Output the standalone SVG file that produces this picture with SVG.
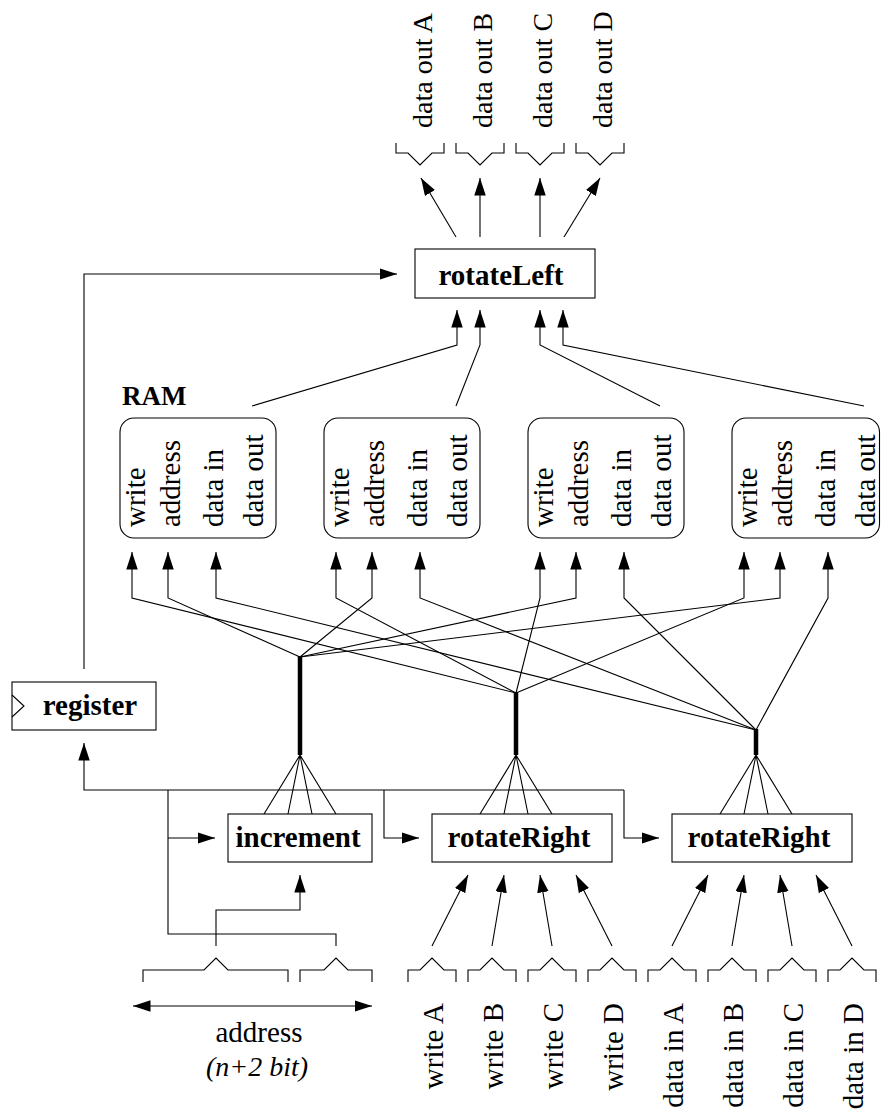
<svg xmlns="http://www.w3.org/2000/svg" width="881" height="1117" viewBox="0 0 881 1117">
<style>
.ln{fill:none;stroke:#000;stroke-width:1.1}
.bus{fill:none;stroke:#000;stroke-width:4.5}
.box{fill:#fff;stroke:#000;stroke-width:1.1}
.b{font-family:"Liberation Serif","Times New Roman",serif;font-weight:bold;font-size:29px;fill:#000}
.t{font-family:"Liberation Serif","Times New Roman",serif;font-size:29px;fill:#000}
.o{font-size:28px}
.i{font-family:"Liberation Serif","Times New Roman",serif;font-style:italic;font-size:28px;fill:#000}
</style>
<defs>
<marker id="ah" markerUnits="userSpaceOnUse" markerWidth="19" markerHeight="12" refX="17.5" refY="5.75" orient="auto-start-reverse">
<path d="M0,0 L17.5,5.75 L0,11.5 z" fill="#000"/>
</marker>
</defs>

<!-- output ports -->
<g id="dataOutA"><path class="ln" d="M396,143 V153 H408 L420,165 L432,153 H444 V143"/><text class="t o" transform="translate(432,128) rotate(-90)">data out A</text></g>
<g id="dataOutB"><path class="ln" d="M456,143 V153 H468 L480,165 L492,153 H504 V143"/><text class="t o" transform="translate(492,128) rotate(-90)">data out B</text></g>
<g id="dataOutC"><path class="ln" d="M516,143 V153 H528 L540,165 L552,153 H564 V143"/><text class="t o" transform="translate(552,128) rotate(-90)">data out C</text></g>
<g id="dataOutD"><path class="ln" d="M576,143 V153 H588 L600,165 L612,153 H624 V143"/><text class="t o" transform="translate(612,128) rotate(-90)">data out D</text></g>

<!-- rotateLeft -->
<g id="rotateLeft"><rect class="box" x="415" y="249" width="180" height="49"/><text class="b" x="501" y="285" text-anchor="middle">rotateLeft</text></g>

<!-- RAMs -->
<g id="ramLabel"><text class="b" x="122" y="405" style="font-size:27px">RAM</text></g>
<g id="ram1"><rect class="box" x="120" y="418" width="156" height="120" rx="14"/>
<text class="t" transform="translate(145,527) rotate(-90)">write</text>
<text class="t" transform="translate(180,527) rotate(-90)">address</text>
<text class="t" transform="translate(223,527) rotate(-90)">data in</text>
<text class="t" transform="translate(263,527) rotate(-90)">data out</text></g>
<g id="ram2"><rect class="box" x="324" y="418" width="156" height="120" rx="14"/>
<text class="t" transform="translate(349,527) rotate(-90)">write</text>
<text class="t" transform="translate(384,527) rotate(-90)">address</text>
<text class="t" transform="translate(427,527) rotate(-90)">data in</text>
<text class="t" transform="translate(467,527) rotate(-90)">data out</text></g>
<g id="ram3"><rect class="box" x="528" y="418" width="156" height="120" rx="14"/>
<text class="t" transform="translate(553,527) rotate(-90)">write</text>
<text class="t" transform="translate(588,527) rotate(-90)">address</text>
<text class="t" transform="translate(631,527) rotate(-90)">data in</text>
<text class="t" transform="translate(671,527) rotate(-90)">data out</text></g>
<g id="ram4"><rect class="box" x="732" y="418" width="147.5" height="120" rx="14"/>
<text class="t" transform="translate(757,527) rotate(-90)">write</text>
<text class="t" transform="translate(792,527) rotate(-90)">address</text>
<text class="t" transform="translate(835,527) rotate(-90)">data in</text>
<text class="t" transform="translate(875,527) rotate(-90)">data out</text></g>

<!-- register -->
<g id="register"><rect class="box" x="12" y="682" width="144" height="48"/><path class="ln" d="M12,695 L24,706 L12,717"/><text class="b" x="90" y="715" text-anchor="middle">register</text></g>

<!-- function boxes -->
<g id="increment"><rect class="box" x="228" y="814" width="144" height="48"/><text class="b" x="298" y="847" text-anchor="middle">increment</text></g>
<g id="rotateRight1"><rect class="box" x="432" y="814" width="180" height="48"/><text class="b" x="519" y="847" text-anchor="middle">rotateRight</text></g>
<g id="rotateRight2"><rect class="box" x="672" y="814" width="180" height="48"/><text class="b" x="759" y="847" text-anchor="middle">rotateRight</text></g>

<!-- input ports -->
<g id="address">
<path class="ln" d="M143,982 V970 H204 L216,958 L228,970 H288 V982"/>
<path class="ln" d="M300,982 V970 H324 L336,958 L348,970 H372 V982"/>
<path class="ln" d="M133,1006 H372" marker-start="url(#ah)" marker-end="url(#ah)"/>
<text class="t" x="259" y="1042" text-anchor="middle">address</text>
<text class="i" x="257" y="1076" text-anchor="middle">(n+2 bit)</text>
</g>
<g id="writeA"><path class="ln" d="M408,982 V970 H420 L432,958 L444,970 H456 V982"/><text class="t" transform="translate(443,1003) rotate(-90)" text-anchor="end">write A</text></g>
<g id="writeB"><path class="ln" d="M468,982 V970 H480 L492,958 L504,970 H516 V982"/><text class="t" transform="translate(503,1003) rotate(-90)" text-anchor="end">write B</text></g>
<g id="writeC"><path class="ln" d="M528,982 V970 H540 L552,958 L564,970 H576 V982"/><text class="t" transform="translate(563,1003) rotate(-90)" text-anchor="end">write C</text></g>
<g id="writeD"><path class="ln" d="M588,982 V970 H600 L612,958 L624,970 H636 V982"/><text class="t" transform="translate(623,1003) rotate(-90)" text-anchor="end">write D</text></g>
<g id="dataInA"><path class="ln" d="M648,982 V970 H660 L672,958 L684,970 H696 V982"/><text class="t" transform="translate(683,1003) rotate(-90)" text-anchor="end">data in A</text></g>
<g id="dataInB"><path class="ln" d="M708,982 V970 H720 L732,958 L744,970 H756 V982"/><text class="t" transform="translate(743,1003) rotate(-90)" text-anchor="end">data in B</text></g>
<g id="dataInC"><path class="ln" d="M768,982 V970 H780 L792,958 L804,970 H816 V982"/><text class="t" transform="translate(803,1003) rotate(-90)" text-anchor="end">data in C</text></g>
<g id="dataInD"><path class="ln" d="M828,982 V970 H840 L852,958 L864,970 H876 V982"/><text class="t" transform="translate(863,1003) rotate(-90)" text-anchor="end">data in D</text></g>

<!-- connectors -->
<g id="connectors">
<path class="ln" d="M84,669 V274 H397" marker-end="url(#ah)"/>
<path class="ln" d="M456,237 L421,178" marker-end="url(#ah)"/>
<path class="ln" d="M480,237 V178" marker-end="url(#ah)"/>
<path class="ln" d="M540,237 V178" marker-end="url(#ah)"/>
<path class="ln" d="M564,237 L600,178" marker-end="url(#ah)"/>
<path class="ln" d="M252,406 L457,345 V310" marker-end="url(#ah)"/>
<path class="ln" d="M456,406 L480,345 V310" marker-end="url(#ah)"/>
<path class="ln" d="M660,406 L540,345 V310" marker-end="url(#ah)"/>
<path class="ln" d="M864,406 L563,345 V310" marker-end="url(#ah)"/>
<!-- RAM inputs -->
<path class="ln" d="M516,693 L132,598 V552" marker-end="url(#ah)"/>
<path class="ln" d="M300,657 L168,598 V552" marker-end="url(#ah)"/>
<path class="ln" d="M756,730 L216,598 V552" marker-end="url(#ah)"/>
<path class="ln" d="M516,693 L336,598 V552" marker-end="url(#ah)"/>
<path class="ln" d="M300,657 L372,598 V552" marker-end="url(#ah)"/>
<path class="ln" d="M756,730 L420,598 V552" marker-end="url(#ah)"/>
<path class="ln" d="M516,693 L540,598 V552" marker-end="url(#ah)"/>
<path class="ln" d="M300,657 L576,598 V552" marker-end="url(#ah)"/>
<path class="ln" d="M756,730 L624,598 V552" marker-end="url(#ah)"/>
<path class="ln" d="M516,693 L744,598 V552" marker-end="url(#ah)"/>
<path class="ln" d="M300,657 L780,598 V552" marker-end="url(#ah)"/>
<path class="ln" d="M756,730 L828,598 V552" marker-end="url(#ah)"/>
<!-- buses -->
<path class="bus" d="M300,656 V755"/>
<path class="bus" d="M516,692 V755"/>
<path class="bus" d="M756,729 V755"/>
<path class="ln" d="M264,814 L300,755 L288,814 M300,755 L312,814 M300,755 L336,814"/>
<path class="ln" d="M480,814 L516,755 L504,814 M516,755 L528,814 M516,755 L552,814"/>
<path class="ln" d="M720,814 L756,755 L744,814 M756,755 L768,814 M756,755 L792,814"/>
<!-- address net -->
<path class="ln" d="M624,790 H84 V743" marker-end="url(#ah)"/>
<path class="ln" d="M624,790 V838 H659" marker-end="url(#ah)"/>
<path class="ln" d="M384,790 V838 H419" marker-end="url(#ah)"/>
<path class="ln" d="M168,790 V934 H336 V946"/>
<path class="ln" d="M168,838 H215" marker-end="url(#ah)"/>
<path class="ln" d="M216,946 V910 H300 V875" marker-end="url(#ah)"/>
<!-- write / data in inputs -->
<path class="ln" d="M432,946 L468,875" marker-end="url(#ah)"/>
<path class="ln" d="M492,946 L504,875" marker-end="url(#ah)"/>
<path class="ln" d="M552,946 L540,875" marker-end="url(#ah)"/>
<path class="ln" d="M612,946 L576,875" marker-end="url(#ah)"/>
<path class="ln" d="M672,946 L708,875" marker-end="url(#ah)"/>
<path class="ln" d="M732,946 L744,875" marker-end="url(#ah)"/>
<path class="ln" d="M792,946 L780,875" marker-end="url(#ah)"/>
<path class="ln" d="M852,946 L816,875" marker-end="url(#ah)"/>
</g>
</svg>
